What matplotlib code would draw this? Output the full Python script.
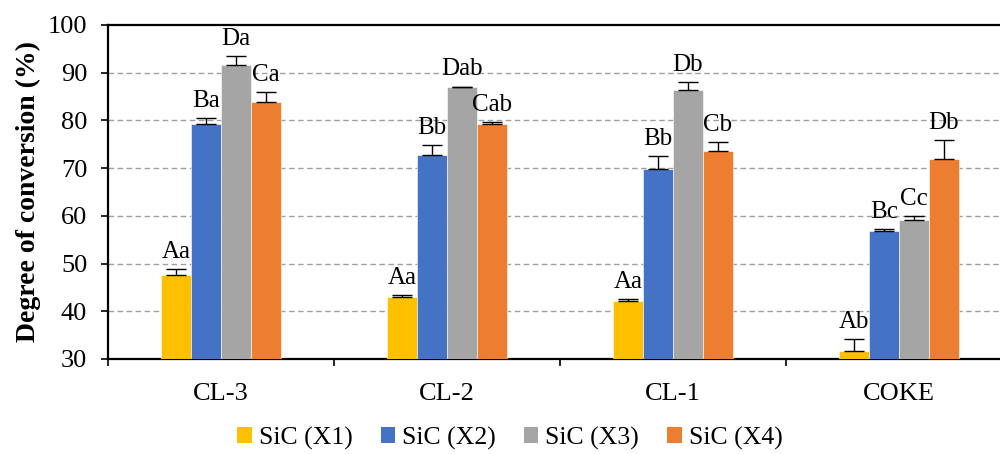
import matplotlib
matplotlib.use('Agg')
import matplotlib.pyplot as plt
from matplotlib.patches import Patch
import numpy as np

plt.rcParams['font.family'] = ['Liberation Serif', 'DejaVu Serif']

categories = ['CL-3', 'CL-2', 'CL-1', 'COKE']
series = ['SiC (X1)', 'SiC (X2)', 'SiC (X3)', 'SiC (X4)']
colors = ['#FFC000', '#4472C4', '#A5A5A5', '#ED7D31']

x1 = [47.7, 43.0, 42.2, 31.7]
x2 = [79.3, 72.8, 69.8, 56.8]
x3 = [91.6, 87.0, 86.3, 59.1]
x4 = [83.9, 79.3, 73.6, 71.9]

x1_err = [1.1, 0.4, 0.4, 2.4]
x2_err = [1.1, 2.0, 2.8, 0.4]
x3_err = [1.8, 0.1, 1.7, 0.9]
x4_err = [2.1, 0.3, 1.9, 4.0]

x1_lab = ['Aa', 'Aa', 'Aa', 'Ab']
x2_lab = ['Ba', 'Bb', 'Bb', 'Bc']
x3_lab = ['Da', 'Dab', 'Db', 'Cc']
x4_lab = ['Ca', 'Cab', 'Cb', 'Db']

values = [x1, x2, x3, x4]
errors = [x1_err, x2_err, x3_err, x4_err]
labels = [x1_lab, x2_lab, x3_lab, x4_lab]

fig = plt.figure(figsize=(10, 4.54), dpi=100)
ax = fig.add_axes([0.108, 0.2093, 0.904, 0.7357])

xs = np.arange(len(categories))
w = 0.1327

for i in range(4):
    pos = xs + (i - 1.5) * w
    ax.bar(pos, values[i], w, bottom=0, color=colors[i], edgecolor='white',
           linewidth=0.4, zorder=3)
    ax.errorbar(pos, values[i], yerr=[np.zeros(4), errors[i]], fmt='none',
                ecolor='black', elinewidth=1.0, capsize=7, capthick=1.0, zorder=4)
    for p, v, e, t in zip(pos, values[i], errors[i], labels[i]):
        ax.annotate(t, (p, v + e), xytext=(0, 8), textcoords='offset points',
                    ha='center', va='baseline', fontsize=18, zorder=5)

ax.set_ylim(30, 100)
ax.set_xlim(-0.5, 3.5)
ax.set_yticks(range(30, 101, 10))
ax.set_xticks(xs)
ax.set_xticklabels(categories)
ax.set_xticks(np.arange(-0.5, 3.6, 1), minor=True)
ax.tick_params(axis='x', which='major', length=0, pad=17, labelsize=19)
ax.tick_params(axis='x', which='minor', length=5, width=1.2, direction='out')
ax.tick_params(axis='y', length=5, width=1.2, direction='out', labelsize=19, pad=10)

for y in range(40, 100, 10):
    ax.axhline(y, color='#A0A0A0', linestyle=(0, (4, 2.5)), linewidth=1.0, zorder=1)

for s in ['left', 'bottom', 'top']:
    ax.spines[s].set_linewidth(1.6)
ax.spines['right'].set_visible(False)

ax.set_ylabel('Degree of conversion (%)', fontsize=20, fontweight='bold', labelpad=5)

handles = [Patch(facecolor=c) for c in colors]
fig.legend(handles, series, loc='center', bbox_to_anchor=(0.51, 0.035), ncol=4,
           frameon=False, fontsize=18.5, handlelength=0.55, handleheight=0.55,
           handletextpad=0.28, columnspacing=1.1)

fig.savefig('out.png', dpi=100)
